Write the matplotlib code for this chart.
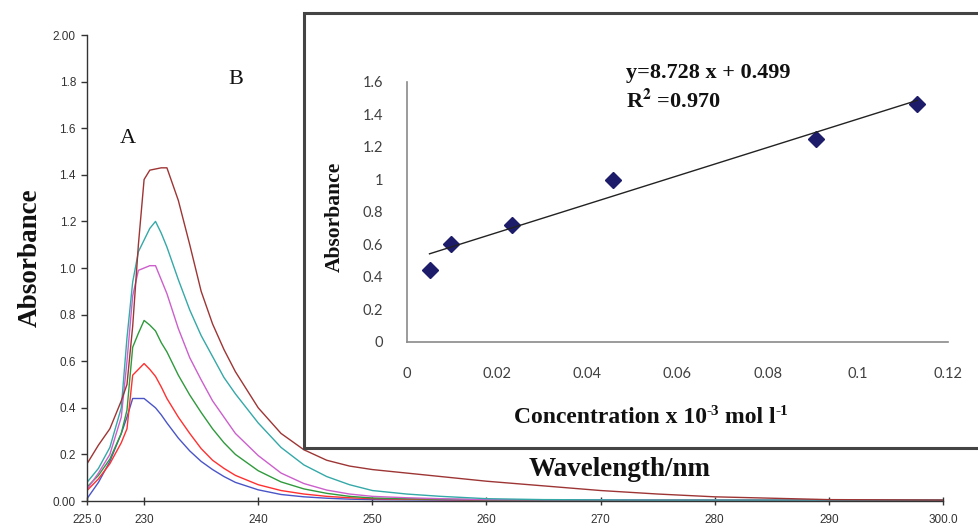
import numpy as np
import matplotlib
matplotlib.use("Agg")
import matplotlib.pyplot as plt
import matplotlib.patches as mpatches
from matplotlib.transforms import IdentityTransform

plt.rcParams['mathtext.fontset'] = 'stix'

# spectra (absorbance vs wavelength, nm)
wavelength = [225, 226, 227, 228, 228.5, 229, 229.5, 230, 230.5, 231, 231.5,
              232, 233, 234, 235, 236, 237, 238, 240, 242, 244, 246, 248,
              250, 253, 256, 260, 265, 270, 275, 280, 290, 300]

abs_blue = [0.01, 0.08, 0.17, 0.29, 0.36, 0.44, 0.44, 0.44, 0.42, 0.40, 0.37,
            0.335, 0.27, 0.215, 0.17, 0.135, 0.105, 0.08, 0.048, 0.028, 0.018,
            0.012, 0.008, 0.006, 0.005, 0.004, 0.003, 0.003, 0.002, 0.002,
            0.002, 0.002, 0.002]
abs_red = [0.045, 0.095, 0.16, 0.25, 0.31, 0.54, 0.565, 0.59, 0.565, 0.535,
           0.49, 0.44, 0.36, 0.29, 0.225, 0.175, 0.14, 0.11, 0.07, 0.045, 0.03,
           0.02, 0.014, 0.01, 0.008, 0.006, 0.004, 0.004, 0.003, 0.003, 0.003,
           0.003, 0.003]
abs_green = [0.06, 0.11, 0.18, 0.29, 0.39, 0.66, 0.72, 0.775, 0.755, 0.73,
             0.68, 0.64, 0.54, 0.455, 0.38, 0.31, 0.25, 0.20, 0.13, 0.082,
             0.052, 0.033, 0.02, 0.013, 0.01, 0.008, 0.005, 0.004, 0.004,
             0.004, 0.004, 0.004, 0.004]
abs_magenta = [0.05, 0.12, 0.20, 0.36, 0.60, 0.88, 0.99, 1.0, 1.01, 1.01,
               0.95, 0.89, 0.74, 0.615, 0.52, 0.43, 0.36, 0.29, 0.195, 0.12,
               0.075, 0.047, 0.03, 0.02, 0.014, 0.01, 0.006, 0.005, 0.005,
               0.004, 0.004, 0.004, 0.004]
abs_teal = [0.08, 0.14, 0.23, 0.40, 0.70, 0.94, 1.07, 1.12, 1.17, 1.20, 1.15,
            1.09, 0.95, 0.82, 0.71, 0.62, 0.53, 0.46, 0.335, 0.23, 0.155,
            0.105, 0.07, 0.045, 0.03, 0.02, 0.01, 0.006, 0.005, 0.004, 0.004,
            0.004, 0.004]
abs_darkred = [0.16, 0.24, 0.31, 0.43, 0.50, 0.75, 1.10, 1.38, 1.42, 1.425,
               1.43, 1.43, 1.29, 1.10, 0.90, 0.76, 0.65, 0.555, 0.40, 0.29,
               0.22, 0.175, 0.15, 0.135, 0.12, 0.105, 0.085, 0.065, 0.045,
               0.03, 0.018, 0.006, 0.004]

spectra = [abs_blue, abs_red, abs_green, abs_magenta, abs_teal, abs_darkred]
colors = ['#4a55c8', '#ff3030', '#2f9a3c', '#cc5fcc', '#35a8a8', '#9e3535']

x_ticks = [225, 230, 240, 250, 260, 270, 280, 290, 300]
x_ticklabels = ['225.0', '230', '240', '250', '260', '270', '280', '290', '300.0']
y_ticks = [0, 0.2, 0.4, 0.6, 0.8, 1.0, 1.2, 1.4, 1.6, 1.8, 2.0]
y_ticklabels = ['0.00', '0.2', '0.4', '0.6', '0.8', '1.0', '1.2', '1.4', '1.6', '1.8', '2.00']

# calibration (inset)
conc = [0.005, 0.0097, 0.0232, 0.0457, 0.0908, 0.1132]
absorb = [0.44, 0.605, 0.72, 0.995, 1.25, 1.465]
slope = 8.728
intercept = 0.499
r2 = 0.970
inset_xticks = [0, 0.02, 0.04, 0.06, 0.08, 0.1, 0.12]
inset_xticklabels = ['0', '0.02', '0.04', '0.06', '0.08', '0.1', '0.12']
inset_yticks = [0, 0.2, 0.4, 0.6, 0.8, 1.0, 1.2, 1.4, 1.6]
inset_yticklabels = ['0', '0.2', '0.4', '0.6', '0.8', '1', '1.2', '1.4', '1.6']

SERIF = 'Liberation Serif'
INK = '#111111'


def chain_text(fig, cx, baseline, parts):
    """Write text pieces side by side (for hyphen superscripts), centred on cx.
    parts: list of (string, fontsize, rise in pixels)"""
    renderer = fig.canvas.get_renderer()
    texts = []
    widths = []
    for s, size, rise in parts:
        t = fig.text(0, 0, s, fontsize=size, family=SERIF, weight='bold',
                     color=INK, ha='left', va='baseline',
                     transform=IdentityTransform(), zorder=7)
        texts.append((t, rise))
        widths.append(t.get_window_extent(renderer).width)
    x = cx - sum(widths) / 2.0
    for (t, rise), w in zip(texts, widths):
        t.set_position((x, baseline + rise))
        x += w


fig = plt.figure(figsize=(9.79, 5.29), dpi=100)
ax = fig.add_axes([0.0889, 0.0529, 0.8743, 0.8809])
for vals, c in zip(spectra, colors):
    ax.plot(wavelength, vals, color=c, lw=1.0)
ax.set_xlim(225, 300)
ax.set_ylim(0, 2.0)
for s in ['top', 'right']:
    ax.spines[s].set_visible(False)
for s in ['left', 'bottom']:
    ax.spines[s].set_color('#333333')
    ax.spines[s].set_linewidth(1.0)
ax.set_xticks(x_ticks)
ax.set_xticklabels(x_ticklabels)
ax.set_yticks(y_ticks)
ax.set_yticklabels(y_ticklabels)
ax.tick_params(axis='x', direction='inout', length=6, width=1, color='#333333',
               labelsize=8.5, labelcolor='#333333', pad=6)
ax.tick_params(axis='y', direction='out', length=4, width=1, color='#333333',
               labelsize=8.5, labelcolor='#333333', pad=4)
for lab in ax.get_xticklabels() + ax.get_yticklabels():
    lab.set_family('Liberation Sans')

fig.text(0.031, 0.512, 'Absorbance', rotation=90, ha='center', va='center',
         family=SERIF, weight='bold', fontsize=19.5, color=INK)
fig.text(0.633, 0.112, 'Wavelength/nm', ha='center', va='center',
         family=SERIF, weight='bold', fontsize=19.5, color=INK)
fig.text(0.131, 0.739, 'A', ha='center', va='center', family=SERIF,
         fontsize=16, color=INK)
fig.text(0.241, 0.849, 'B', ha='center', va='center', family=SERIF,
         fontsize=16, color=INK)

# inset frame
box = mpatches.Rectangle((0.3105, 0.1531), 0.72, 0.8223, transform=fig.transFigure,
                         facecolor='white', edgecolor='#444444', lw=2.2,
                         zorder=5, clip_on=False)
fig.patches.append(box)

ins = fig.add_axes([0.4157, 0.3535, 0.5526, 0.4915], zorder=6)
ins.patch.set_alpha(0)
ins.plot(conc, absorb, 'D', color='#1c1c6b', ms=8)
fit_x = np.array([conc[0], conc[-1]])
ins.plot(fit_x, slope * fit_x + intercept, color='#222222', lw=1.0)
ins.set_xlim(0, 0.12)
ins.set_ylim(0, 1.6)
for s in ['top', 'right']:
    ins.spines[s].set_visible(False)
for s in ['left', 'bottom']:
    ins.spines[s].set_color('#8a8a8a')
    ins.spines[s].set_linewidth(1.2)
ins.set_xticks(inset_xticks)
ins.set_xticklabels(inset_xticklabels)
ins.set_yticks(inset_yticks)
ins.set_yticklabels(inset_yticklabels)
ins.tick_params(axis='both', length=0, labelsize=10.5, labelcolor='#404040')
ins.tick_params(axis='x', pad=18)
ins.tick_params(axis='y', pad=17)
for lab in ins.get_xticklabels() + ins.get_yticklabels():
    lab.set_family('Lato')

fig.text(0.342, 0.59, 'Absorbance', rotation=90, ha='center', va='center',
         family=SERIF, weight='bold', fontsize=15.5, color=INK, zorder=7)
chain_text(fig, 651, 106, [('Concentration x 10', 17, 0), ('-3', 11, 8),
                           (' mol l', 17, 0), ('-1', 11, 8)])
fig.text(0.639, 0.862, 'y=%.3f x + %.3f' % (slope, intercept), ha='left',
         va='center', family=SERIF, weight='bold', fontsize=16, color=INK,
         zorder=7)
fig.text(0.639, 0.809, r'R$^{\mathbf{2}}$ =%.3f' % r2, ha='left', va='center',
         family=SERIF, weight='bold', fontsize=16, color=INK, zorder=7)

fig.savefig('out.png', dpi=100)
